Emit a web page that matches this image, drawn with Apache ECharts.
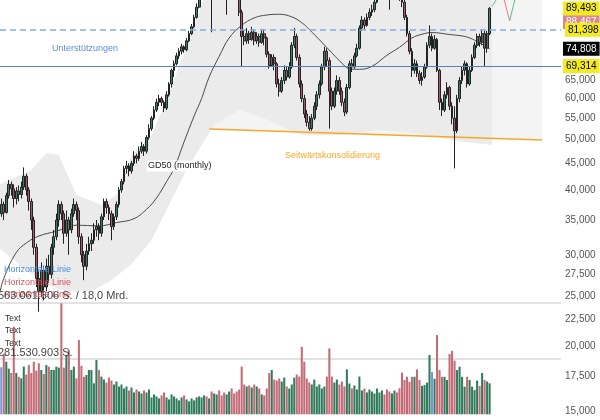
<!DOCTYPE html>
<html><head><meta charset="utf-8">
<script src="https://cdn.jsdelivr.net/npm/echarts@6/dist/echarts.min.js"></script>
<style>html,body{margin:0;padding:0;background:#fff;overflow:hidden}#c{width:600px;height:420px}</style>
</head><body><div id="c"></div>
<script>
// ---------- DATA (prices in thousands, volumes in millions) ----------
const slotCount = 224;
const categories = Array.from({length: slotCount}, (_, i) => String(i));
// [open, close, low, high] in thousands
const candlesK = [
[36.0,37.5,35.5,38.5],[37.5,36.2,35.0,38.0],[36.2,39.0,36.0,39.5],[39.0,41.0,38.5,41.8],[41.0,40.2,39.0,41.5],
[40.2,38.5,37.0,41.0],[38.5,39.8,37.5,40.5],[39.8,39.2,38.0,40.8],[39.2,40.5,38.5,41.5],[40.5,42.5,40.0,44.2],
[42.5,40.0,39.0,43.0],[40.0,38.0,36.5,40.5],[38.0,35.0,33.5,38.5],[35.0,31.0,30.0,35.5],[31.0,27.0,26.0,31.5],
[27.0,25.5,23.3,28.0],[25.5,28.0,25.0,29.0],[28.0,26.0,24.5,28.5],[26.0,28.5,25.5,29.5],[28.5,27.5,26.5,30.0],
[27.5,31.0,27.0,31.5],[31.0,32.5,30.0,33.5],[32.5,35.0,32.0,36.0],[35.0,37.5,34.0,38.2],[37.5,36.0,35.0,38.0],
[36.0,33.0,31.5,36.5],[33.0,35.0,32.5,36.5],[35.0,33.5,30.0,35.5],[33.5,36.0,33.0,36.8],[36.0,37.5,35.5,38.5],
[37.5,36.5,35.0,38.0],[36.5,32.5,31.5,37.0],[32.5,30.0,29.0,33.0],[30.0,28.5,26.8,30.5],[28.5,30.5,28.0,31.5],
[30.5,31.5,30.0,32.5],[31.5,32.0,30.5,33.0],[32.0,33.5,31.5,34.5],[33.5,34.0,32.5,35.0],[34.0,33.0,32.0,34.5],
[33.0,35.5,32.5,36.0],[35.5,38.0,35.0,38.5],[38.0,37.0,36.0,38.5],[37.0,36.0,35.0,37.5],[36.0,34.0,32.0,36.5],
[34.0,35.5,33.5,36.0],[35.5,37.5,35.0,38.0],[37.5,40.0,37.0,40.5],[40.0,41.5,39.5,42.0],[41.5,44.0,41.0,44.5],
[44.0,44.5,43.0,45.5],[44.5,43.5,42.5,45.0],[43.5,45.0,43.0,45.5],[45.0,46.5,44.5,47.5],[46.5,46.0,45.0,47.0],
[46.0,47.5,45.5,48.5],[47.5,48.5,47.0,49.5],[48.5,47.5,46.5,49.0],[47.5,50.5,47.0,51.0],[50.5,52.5,50.0,53.5],
[52.5,55.0,52.0,55.5],[55.0,57.0,54.5,58.0],[57.0,59.0,56.5,60.0],[59.0,60.0,58.0,61.0],[60.0,59.0,58.0,60.5],
[59.0,57.5,56.5,59.5],[57.5,61.0,57.0,62.0],[61.0,64.0,60.5,64.5],[64.0,68.0,63.0,68.5],[68.0,70.0,66.0,71.0],
[70.0,72.5,69.5,73.5],[72.5,74.0,71.5,75.0],[74.0,75.5,73.0,76.5],[75.5,74.5,73.5,76.0],[74.5,77.5,74.0,78.5],
[77.5,80.0,77.0,81.0],[80.0,82.5,79.5,83.5],[82.5,86.0,82.0,87.0],[86.0,90.0,85.5,91.5],[90.0,94.0,89.5,95.5],
[94.0,97.0,93.5,98.5],[97.0,99.5,96.0,101.0],[99.5,98.0,96.5,101.5],[98.0,100.5,97.0,102.0],[100.5,97.5,80.5,102.0],
[97.5,101.0,96.5,103.0],[101.0,103.5,100.0,105.0],[103.5,101.0,99.5,104.5],[101.0,98.0,96.0,102.0],[98.0,96.5,93.5,99.0],
[96.5,98.0,87.0,99.5],[98.0,101.0,97.0,102.5],[101.0,99.0,97.5,102.0],[99.0,97.0,95.0,100.0],[97.0,94.5,93.0,98.0],
[94.5,88.0,86.5,96.0],[88.0,79.0,69.3,89.0],[79.0,77.5,76.0,81.5],[77.5,80.0,76.5,82.0],[80.0,78.0,76.5,81.0],
[78.0,80.5,77.5,82.5],[80.5,77.5,76.0,81.5],[77.5,79.0,76.5,80.5],[79.0,77.0,75.5,80.0],[77.0,80.0,76.5,81.5],
[80.0,78.5,76.0,81.5],[78.5,73.0,72.0,79.0],[73.0,69.5,68.5,74.0],[69.5,72.0,69.0,73.0],[72.0,70.0,68.0,73.0],
[70.0,64.0,63.0,70.5],[64.0,62.0,60.5,65.5],[62.0,65.0,61.5,66.0],[65.0,68.0,64.0,69.5],[68.0,66.0,65.0,69.0],
[66.0,69.0,65.5,70.5],[69.0,76.0,68.5,77.0],[76.0,79.0,75.0,82.0],[79.0,72.0,71.0,80.0],[72.0,64.0,63.0,73.0],
[64.0,60.0,59.0,65.0],[60.0,56.0,55.0,61.0],[56.0,54.0,53.0,57.0],[54.0,52.5,52.0,55.5],[52.5,55.0,52.0,56.0],
[55.0,58.0,54.5,59.0],[58.0,61.0,57.0,62.0],[61.0,64.0,60.0,65.0],[64.0,69.0,63.5,70.0],[69.0,74.0,68.0,75.5],
[74.0,71.0,69.0,75.0],[71.0,62.0,52.5,72.0],[62.0,58.0,57.0,63.0],[58.0,62.0,57.5,63.0],[62.0,65.0,61.0,66.5],
[65.0,62.0,61.0,66.0],[62.0,59.0,58.0,63.0],[59.0,56.5,55.5,60.0],[56.5,63.0,56.0,64.0],[63.0,70.0,62.5,71.0],
[70.0,69.0,67.5,71.5],[69.0,72.5,68.5,73.5],[72.5,75.0,72.0,76.5],[75.0,82.0,74.5,83.0],[82.0,85.0,81.0,86.5],
[85.0,83.0,81.5,86.0],[83.0,86.0,82.5,87.5],[86.0,88.0,85.0,89.5],[88.0,89.0,86.5,91.0],[89.0,92.0,88.0,94.0],
[92.0,96.0,91.5,97.5],[96.0,99.0,95.0,100.5],[99.0,101.5,98.0,103.0],[101.5,100.0,98.5,102.5],[100.0,97.0,95.0,101.0],
[97.0,95.5,89.0,98.0],[95.5,98.5,95.0,100.0],[98.5,100.0,97.0,101.5],[100.0,97.0,96.0,101.0],[97.0,94.0,92.5,98.0],
[94.0,92.0,90.0,95.5],[92.0,86.0,85.0,93.0],[86.0,80.0,79.0,87.0],[80.0,74.0,73.0,81.0],[74.0,68.0,66.0,75.0],
[68.0,70.0,67.0,71.5],[70.0,67.0,66.0,71.0],[67.0,65.0,64.0,68.0],[65.0,66.0,63.5,67.5],[66.0,69.0,65.5,70.0],
[69.0,76.0,68.5,77.0],[76.0,79.0,75.0,83.0],[79.0,75.0,74.0,80.0],[75.0,78.0,74.5,79.5],[78.0,68.0,67.5,78.5],
[68.0,59.0,57.0,68.5],[59.0,57.0,55.5,60.0],[57.0,61.0,56.5,62.0],[61.0,63.0,60.0,64.5],[63.0,58.0,57.0,63.5],
[58.0,55.0,53.5,59.0],[55.0,52.0,44.0,58.0],[52.0,60.0,51.5,61.0],[60.0,65.0,59.0,66.0],[65.0,68.0,64.0,69.0],
[68.0,70.0,66.5,71.0],[70.0,64.0,63.0,70.5],[64.0,68.0,63.5,69.0],[68.0,72.0,67.5,73.0],[72.0,76.0,71.5,77.0],
[76.0,79.0,75.0,80.0],[79.0,77.0,75.5,80.0],[77.0,80.0,76.0,81.5],[80.0,75.0,69.0,81.0],[75.0,80.0,73.5,81.0],
[80.0,89.5,79.5,90.0]
];
const volumeM = [
237,304,265,230,208,441,208,189,181,240,
200,248,208,265,220,257,223,203,248,240,
223,223,240,235,559,235,299,324,223,240,
181,374,244,189,198,223,223,156,273,223,
190,175,160,185,170,150,165,140,150,130,
140,120,135,110,125,115,105,120,110,125,
85,100,90,80,95,110,85,75,100,90,
80,70,85,95,75,65,80,70,85,90,
85,95,90,80,115,105,100,120,95,110,
100,115,130,105,115,125,240,150,140,145,
135,150,140,130,100,95,130,208,223,175,
170,180,165,185,140,130,150,185,200,190,
340,265,180,160,150,175,140,150,130,140,
190,332,190,160,175,150,165,140,226,155,
130,145,125,190,120,130,110,125,115,105,
130,110,120,100,125,115,105,120,110,131,
210,173,189,163,189,189,226,173,143,148,
160,299,213,179,399,223,189,189,173,304,
320,270,223,240,189,139,189,173,139,122,
170,143,208,173,165,156
];
const blueVolumeIdx = [0, 172];
// GD50 (monthly) read points: [slot index, value in thousands]
const gd50K = [[-1,24.8],[1,27.0],[6,30.3],[10,31.6],[15,32.6],[22,33.3],[30,34.2],[39,34.1],[46,34.6],[53,35.2],
[58,36.7],[62,38.6],[66,41.5],[69,44.0],[73,49.5],[77,55.5],[80,60.0],[83,66.0],[87,72.3],[91,78.5],[96,83.0],
[101,85.8],[106,86.9],[111,87.2],[116,86.2],[120,84.0],[123,81.5],[128,77.0],[132,73.5],[135,71.0],[139,68.5],
[143,68.3],[148,69.2],[154,72.7],[159,75.3],[164,78.5],[168,79.8],[172,80.4],[179,79.7],[184,79.2],[187,78.5],
[191,76.8],[195,74.8]];
// envelope band outline (upper then lower, in thousands)
const bandUpperK = [[-1,40.9],[12,43.7],[18,47.1],[23,46.7],[30,39.1],[40,37.4],[46,39.1],[52,46.7],[60,51.0],[66,59.6],[72,71.2],[78,85.0],[82,97],[196,97]];
const bandLowerK = [[196,48.8],[185,49.5],[175,50.4],[165,51.5],[150,52.2],[135,51.0],[120,51.0],[105,55.0],[95,57.0],[85,53.4],[80,48.8],[74,43.7],[68,38.3],[60,32.0],[52,28.8],[44,26.8],[36,25.5],[28,25.5],[20,26.0],[10,28.0],[-1,31.0]];
// consolidation zone & its lower trend line
const zoneK = [[83,97],[216,97],[216,49.9],[83,52.4]];
const trendLineK = [[83,52.4],[216,49.9]];
// sketched projection at top right
const projGreen1K = [[196,90.3],[198,93.7]];
const projRedK = [[200,96.3],[203,84.7]];
const projGreen2K = [[203,84.7],[206,97.0]];
// levels
const supportDashed = 81398, supportSolid = 69314, lastPrice = 89493, gd50Last = 74808, otherPrice = 88467;
const priceTicks = [15000,17500,20000,22500,25000,27500,30000,35000,40000,45000,50000,55000,60000,65000];
const volumeLevels = [281530903, 563061606];

// ---------- BUILD ----------
const F = 'Liberation Sans, Arial, Helvetica, sans-serif';
const fmt = v => Math.round(v).toLocaleString('en-US');
const K = a => a.map(p => [p[0], p[1] * 1000]);
const candles = candlesK.map(r => r.map(v => v * 1000));
const UP = '#3a7e64', DOWN = '#a6596a';
const volData = volumeM.map((v, i) => ({
  value: v * 1e6,
  itemStyle: {color: blueVolumeIdx.includes(i) ? '#7b95d6' : (candlesK[i][1] >= candlesK[i][0] ? '#2f7b5c' : '#c36b76')}
}));
function poly(pts, fill, z) {
  const P = K(pts);
  return {type: 'custom', xAxisIndex: 0, yAxisIndex: 0, silent: true, z, clip: true, animation: false,
    data: [[0, 50000]],
    renderItem: (params, api) => ({type: 'polygon', shape: {points: P.map(p => api.coord(p))}, style: {fill}})};
}
function line(pts, color, width, z, smooth) {
  return {type: 'line', xAxisIndex: 0, yAxisIndex: 0, data: K(pts), symbol: 'none', silent: true, z, smooth: smooth || false,
    lineStyle: {color, width}, animation: false, clip: true};
}
const lblBase = {show: true, position: 'end', distance: 2, fontSize: 10, fontFamily: F, padding: [2, 3, 2, 3], formatter: p => fmt(p.value)};
const chart = echarts.init(document.getElementById('c'), null, {renderer: 'canvas'});
chart.setOption({
  animation: false,
  backgroundColor: '#fff',
  grid: [
    {left: 0, right: 39, top: 0, bottom: 0, containLabel: false, outerBoundsMode: 'none'},
    {left: 0, right: 39, top: 302.5, bottom: 5.7, containLabel: false, outerBoundsMode: 'none'}
  ],
  xAxis: [
    {type: 'category', data: categories, gridIndex: 0, show: false, boundaryGap: true},
    {type: 'category', data: categories, gridIndex: 1, show: false, boundaryGap: true}
  ],
  yAxis: [
    {type: 'log', gridIndex: 0, position: 'right', min: 14413, max: 92892, logBase: 10,
      axisLine: {show: false}, axisTick: {show: false}, splitLine: {show: false},
      axisLabel: {show: true, customValues: priceTicks, formatter: v => fmt(v), color: '#555', fontSize: 10, fontFamily: F, margin: 4}},
    {type: 'value', gridIndex: 1, min: 0, max: volumeLevels[1], show: false, splitLine: {show: false}}
  ],
  series: [
    poly(zoneK, '#f4f4f4', 0),
    poly(bandUpperK.concat(bandLowerK), '#ebebeb', 1),
    line(trendLineK, '#f7a72a', 1.5, 3),
    line(gd50K, '#4a4a4a', 1, 4, 0.4),
    line(projGreen1K, '#5cbf8a', 1, 4),
    line(projRedK, '#e57c82', 1, 4),
    line(projGreen2K, '#5cbf8a', 1, 4),
    {type: 'candlestick', xAxisIndex: 0, yAxisIndex: 0, data: candles, z: 5, barWidth: '92%', clip: true,
      itemStyle: {color: UP, color0: DOWN, borderColor: '#222', borderColor0: '#222', borderWidth: 1},
      markLine: {silent: true, symbol: ['none', 'none'], animation: false, z: 8,
        data: [
          {yAxis: otherPrice, lineStyle: {color: 'transparent'}, label: Object.assign({}, lblBase, {backgroundColor: '#d98894', color: '#fff', offset: [0, 11]})},
          {yAxis: lastPrice, lineStyle: {color: 'transparent'}, label: Object.assign({}, lblBase, {backgroundColor: '#f3eb1d', color: '#000'})},
          {yAxis: gd50Last, lineStyle: {color: 'transparent'}, label: Object.assign({}, lblBase, {backgroundColor: '#000', color: '#fff'})},
          {yAxis: supportSolid, lineStyle: {color: '#4d80c4', width: 1, type: 'solid'}, label: Object.assign({}, lblBase, {backgroundColor: '#f3eb1d', color: '#000'})},
          {yAxis: supportDashed, lineStyle: {color: '#82b0e3', width: 1.5, type: [6, 4]}, label: Object.assign({}, lblBase, {backgroundColor: '#f3eb1d', color: '#000', distance: 4})}
        ]}
    },
    {type: 'bar', xAxisIndex: 1, yAxisIndex: 1, data: volData, barWidth: '82%', z: 6, silent: true,
      markLine: {silent: true, symbol: ['none', 'none'], animation: false, label: {show: false},
        lineStyle: {color: '#e2e2e2', width: 2, type: 'solid'},
        data: volumeLevels.map(v => ({yAxis: v}))}}
  ],
  graphic: [
    {type: 'text', x: 52, y: 49, z: 20, style: {text: 'Unterstützungen', fill: '#5b8fd8', font: '9px ' + F, textVerticalAlign: 'middle'}},
    {type: 'text', x: 147, y: 166, z: 20, style: {text: 'GD50 (monthly)', fill: '#222', font: '9px ' + F, textVerticalAlign: 'middle', backgroundColor: '#fff', padding: [1, 1]}},
    {type: 'text', x: 285, y: 156, z: 20, style: {text: 'Seitwärtskonsolidierung', fill: '#f5a62a', font: '9px ' + F, textVerticalAlign: 'middle'}},
    {type: 'text', x: 4, y: 270, z: 20, style: {text: 'Horizontale Linie', fill: '#4a90e2', font: '9px ' + F, textVerticalAlign: 'middle'}},
    {type: 'text', x: 4, y: 283, z: 20, style: {text: 'Horizontale Linie', fill: '#e0525a', font: '9px ' + F, textVerticalAlign: 'middle'}},
    {type: 'text', x: 4, y: 295, z: 20, style: {text: 'Horizontale Linie', fill: '#e0525a', font: '9px ' + F, textVerticalAlign: 'middle'}},
    {type: 'text', x: -2, y: 296, z: 21, style: {text: '563.061.606 S. / 18,0 Mrd.', fill: '#444', font: '11px ' + F, textVerticalAlign: 'middle'}},
    {type: 'text', x: 5, y: 319, z: 20, style: {text: 'Text', fill: '#333', font: '8.5px ' + F, textVerticalAlign: 'middle'}},
    {type: 'text', x: 5, y: 331, z: 20, style: {text: 'Text', fill: '#333', font: '8.5px ' + F, textVerticalAlign: 'middle'}},
    {type: 'text', x: 5, y: 344, z: 20, style: {text: 'Text', fill: '#333', font: '8.5px ' + F, textVerticalAlign: 'middle'}},
    {type: 'text', x: -2, y: 353, z: 21, style: {text: '281.530.903 S.', fill: '#444', font: '11px ' + F, textVerticalAlign: 'middle'}}
  ]
});
</script>
</body></html>
